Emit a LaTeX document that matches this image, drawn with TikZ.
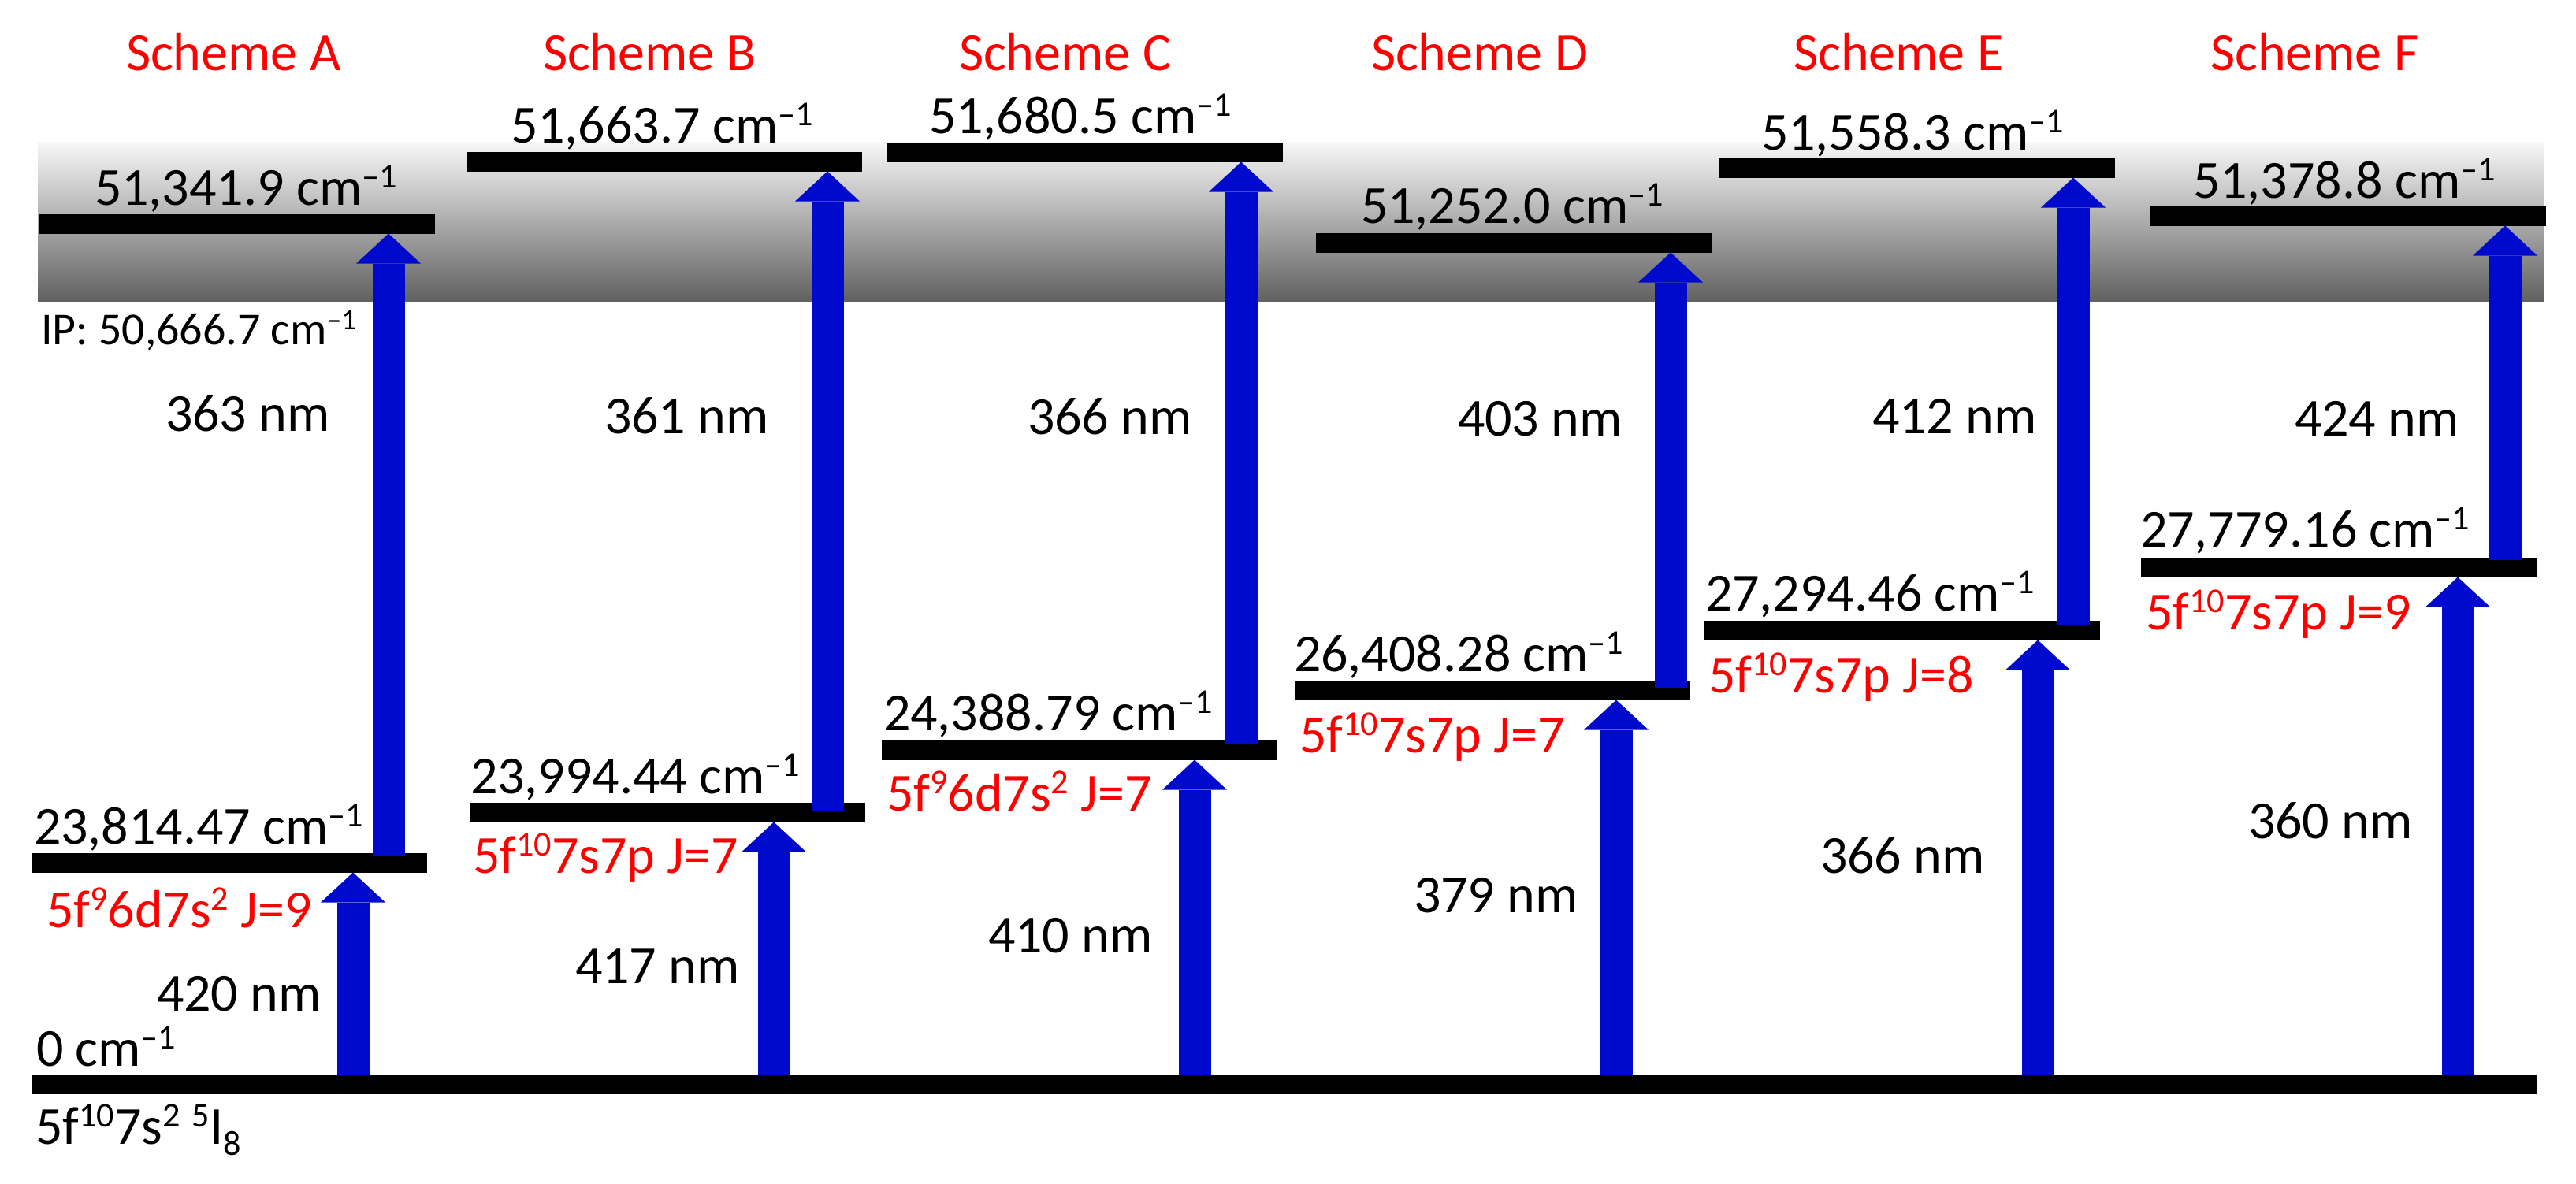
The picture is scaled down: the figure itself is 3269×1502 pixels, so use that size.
\documentclass[tikz,border=0pt]{standalone}
\usepackage{fontspec}
\setmainfont{Carlito}
\usetikzlibrary{arrows.meta}
\definecolor{arrblue}{RGB}{0,10,205}
\newcommand\fsz[1]{\fontsize{#1}{#1}\selectfont}
\newcommand\sups[1]{\raisebox{0.32em}{\scalebox{0.65}{#1}}}
\newcommand\subs[1]{\raisebox{-0.22em}{\scalebox{0.65}{#1}}}
\begin{document}
\begin{tikzpicture}[x=1pt,y=-1pt,
  lvl/.style={fill=black,draw=none,inner sep=0pt,outer sep=0pt,minimum width=502pt,minimum height=24.5pt,anchor=north west},
  arr/.style={draw=arrblue,line width=41pt,-{Triangle[width=82pt,length=38pt,line width=0pt]}},
  lbl/.style={inner sep=0pt,outer sep=0pt,anchor=base west,font=\fsz{68}},
  cfg/.style={lbl,text=red},
  ttl/.style={lbl,text=red}]
\useasboundingbox (0,0) rectangle (3269,1502);
% ionisation band
\shade[top color=white!97!black,bottom color=black!62] (48,180) rectangle (3228,382);
% levels
\node[lvl,minimum width=3180pt,minimum height=25pt] (Gnd) at (40,1364) {};
\node[lvl] (Alow) at (40,1083) {};
\node[lvl] (Atop) at (50,272) {};
\node[lvl] (Blow) at (596,1019) {};
\node[lvl] (Btop) at (592,193) {};
\node[lvl] (Clow) at (1119,940) {};
\node[lvl] (Ctop) at (1126,181) {};
\node[lvl] (Dlow) at (1643,864) {};
\node[lvl] (Dtop) at (1670,296) {};
\node[lvl] (Elow) at (2163,788) {};
\node[lvl] (Etop) at (2182,201) {};
\node[lvl] (Flow) at (2717,708) {};
\node[lvl] (Ftop) at (2729,262) {};
% arrow x positions
\coordinate (xA1) at (448,0);  \coordinate (xA2) at (493,0);
\coordinate (xB1) at (982,0);  \coordinate (xB2) at (1050,0);
\coordinate (xC1) at (1516,0); \coordinate (xC2) at (1575,0);
\coordinate (xD1) at (2051,0); \coordinate (xD2) at (2120,0);
\coordinate (xE1) at (2586,0); \coordinate (xE2) at (2631,0);
\coordinate (xF1) at (3119,0); \coordinate (xF2) at (3179,0);
% arrows
\draw[arr] (Gnd.north -| xA1) -- (Alow.south -| xA1);
\draw[arr] ([yshift=-3pt]Alow.north -| xA2) -- (Atop.south -| xA2);
\draw[arr] (Gnd.north -| xB1) -- (Blow.south -| xB1);
\draw[arr] ([yshift=-10pt]Blow.north -| xB2) -- (Btop.south -| xB2);
\draw[arr] (Gnd.north -| xC1) -- (Clow.south -| xC1);
\draw[arr] ([yshift=-4pt]Clow.north -| xC2) -- (Ctop.south -| xC2);
\draw[arr] (Gnd.north -| xD1) -- (Dlow.south -| xD1);
\draw[arr] ([yshift=-9pt]Dlow.north -| xD2) -- (Dtop.south -| xD2);
\draw[arr] (Gnd.north -| xE1) -- (Elow.south -| xE1);
\draw[arr] ([yshift=-6pt]Elow.north -| xE2) -- (Etop.south -| xE2);
\draw[arr] (Gnd.north -| xF1) -- (Flow.south -| xF1);
\draw[arr] ([yshift=-3pt]Flow.north -| xF2) -- (Ftop.south -| xF2);
% titles
\node[ttl] (tA) at (160,89) {Scheme A};
\node[ttl] (tB) at (689,89) {Scheme B};
\node[ttl] (tC) at (1217,89) {Scheme C};
\node[ttl] (tD) at (1740,89) {Scheme D};
\node[ttl] (tE) at (2276,89) {Scheme E};
\node[ttl] (tF) at (2805,89) {Scheme F};
% upper level energies
\node[lbl] (eAt) at (120,260) {51,341.9 cm\sups{–1}};
\node[lbl] (eBt) at (648,181) {51,663.7 cm\sups{–1}};
\node[lbl] (eCt) at (1179,169) {51,680.5 cm\sups{–1}};
\node[lbl] (eDt) at (1727,283) {51,252.0 cm\sups{–1}};
\node[lbl] (eEt) at (2235,190) {51,558.3 cm\sups{–1}};
\node[lbl] (eFt) at (2783,251) {51,378.8 cm\sups{–1}};
% intermediate level energies
\node[lbl] (eAl) at (43,1071) {23,814.47 cm\sups{–1}};
\node[lbl] (eBl) at (597,1007) {23,994.44 cm\sups{–1}};
\node[lbl] (eCl) at (1121,927) {24,388.79 cm\sups{–1}};
\node[lbl] (eDl) at (1642,852) {26,408.28 cm\sups{–1}};
\node[lbl] (eEl) at (2164,775) {27,294.46 cm\sups{–1}};
\node[lbl] (eFl) at (2716,694) {27,779.16 cm\sups{–1}};
% configurations
\node[cfg] (cA) at (59,1177) {5f\sups{9}6d7s\sups{2} J=9};
\node[cfg] (cB) at (600,1108) {5f\sups{10}7s7p J=7};
\node[cfg] (cC) at (1125,1029) {5f\sups{9}6d7s\sups{2} J=7};
\node[cfg] (cD) at (1649,955) {5f\sups{10}7s7p J=7};
\node[cfg] (cE) at (2168,879) {5f\sups{10}7s7p J=8};
\node[cfg] (cF) at (2723,799) {5f\sups{10}7s7p J=9};
% wavelengths, second step
\node[lbl] (wA2) at (210,547) {363 nm};
\node[lbl] (wB2) at (767,550) {361 nm};
\node[lbl] (wC2) at (1304,551) {366 nm};
\node[lbl] (wD2) at (1850,553) {403 nm};
\node[lbl] (wE2) at (2376,550) {412 nm};
\node[lbl] (wF2) at (2912,553) {424 nm};
% wavelengths, first step
\node[lbl] (wA1) at (199,1283) {420 nm};
\node[lbl] (wB1) at (730,1248) {417 nm};
\node[lbl] (wC1) at (1254,1209) {410 nm};
\node[lbl] (wD1) at (1794,1158) {379 nm};
\node[lbl] (wE1) at (2310,1108) {366 nm};
\node[lbl] (wF1) at (2853,1064) {360 nm};
% ground and IP
\node[lbl] (g0) at (46,1353) {0 cm\sups{–1}};
\node[lbl] (gc) at (45,1452) {5f\sups{10}7s\sups{2} \sups{5}I\subs{8}};
\node[lbl,font=\fsz{58}] (ip) at (52,437) {IP: 50,666.7 cm\sups{–1}};
\end{tikzpicture}
\end{document}
